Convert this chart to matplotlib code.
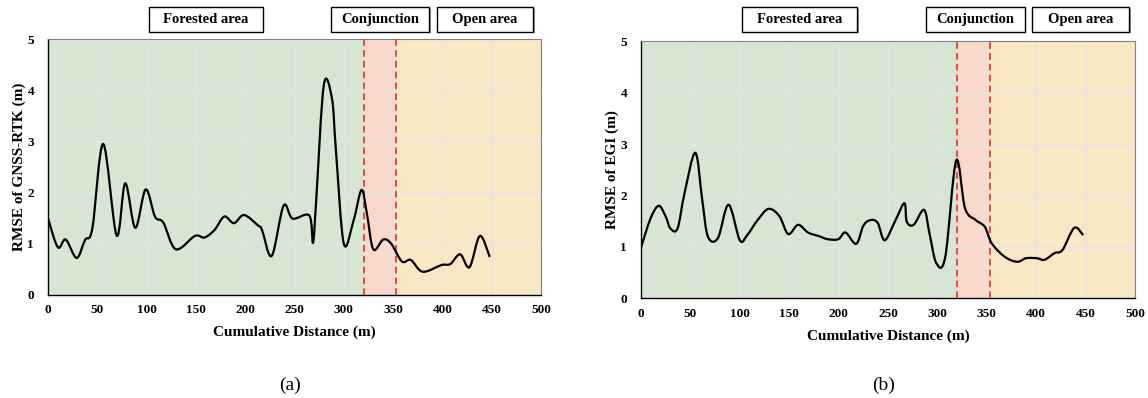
import numpy as np
import matplotlib
matplotlib.use("Agg")
import matplotlib.pyplot as plt
from matplotlib.path import Path
from matplotlib.patches import PathPatch, Rectangle

plt.rcParams['font.family'] = ['Liberation Serif', 'DejaVu Serif']
plt.rcParams['font.weight'] = 'bold'

# RMSE of GNSS-RTK along the route
dist_a = [0, 10, 18, 29, 37.5, 45, 56, 69.6, 78.3, 88.5, 99, 108.5, 117, 129.6, 149, 158.8,
          169, 178.8, 188.6, 198.8, 212.7, 217, 226.9, 238.9, 248, 265, 268.8, 272, 279.7,
          288, 292, 300, 310, 318, 323.4, 329.9, 340, 348, 359, 368, 380, 399, 408, 418,
          427.5, 438, 448]
rmse_a = [1.49, 0.93, 1.08, 0.72, 1.07, 1.3, 2.95, 1.16, 2.18, 1.31, 2.06, 1.53, 1.41, 0.89,
          1.15, 1.12, 1.27, 1.53, 1.40, 1.56, 1.36, 1.27, 0.76, 1.74, 1.49, 1.55, 1.02, 1.85,
          4.1, 3.84, 2.83, 1.0, 1.46, 2.05, 1.59, 0.89, 1.08, 1.0, 0.65, 0.68, 0.45, 0.58,
          0.6, 0.79, 0.54, 1.15, 0.74]

# RMSE of EGI along the route
dist_b = [0, 9.8, 18, 25, 29.7, 37, 44, 55, 62, 67.7, 77.8, 88.6, 100, 107.5, 118, 129, 140,
          149, 159, 169, 180, 189, 199.7, 207, 217.8, 225, 232, 239.5, 246.7, 257.6, 266.6,
          269, 276, 286.5, 292, 299, 308, 319, 328, 339, 348, 355, 368, 380.6, 389.7, 400.5,
          408.5, 418.6, 426.6, 438.5, 447.5]
rmse_b = [0.99, 1.56, 1.8, 1.59, 1.36, 1.36, 2.04, 2.83, 1.91, 1.2, 1.17, 1.82, 1.13, 1.23,
          1.52, 1.74, 1.6, 1.25, 1.43, 1.28, 1.21, 1.15, 1.15, 1.28, 1.06, 1.41, 1.52, 1.47,
          1.13, 1.52, 1.85, 1.49, 1.43, 1.72, 1.26, 0.68, 0.81, 2.68, 1.75, 1.52, 1.39, 1.07,
          0.81, 0.71, 0.78, 0.78, 0.75, 0.88, 0.94, 1.37, 1.23]

zones = ["Forested area", "Conjunction", "Open area"]
zone_edges = [0, 320, 353, 500]
zone_colors = ["#d6e6d2", "#f9d9cb", "#f9e8c5"]

W, H = 1148, 398


def smooth_path(x, y, t=1 / 6):
    # Excel-style smoothed line: cubic Bezier segments through the points
    pts = np.column_stack([x, y])
    verts = [pts[0]]
    codes = [Path.MOVETO]
    n = len(pts)
    for i in range(n - 1):
        p0 = pts[i - 1] if i > 0 else pts[i]
        p1, p2 = pts[i], pts[i + 1]
        p3 = pts[i + 2] if i + 2 < n else pts[i + 1]
        c1 = p1 + (p2 - p0) * t
        c2 = p2 - (p3 - p1) * t
        verts += [c1, c2, p2]
        codes += [Path.CURVE4] * 3
    return Path(verts, codes)


fig = plt.figure(figsize=(W / 100, H / 100), dpi=100)
ax_a = fig.add_axes([48 / W, 1 - 294.7 / H, 493 / W, 255.4 / H])
ax_b = fig.add_axes([641 / W, 1 - 298.3 / H, 494 / W, 257 / H])

# (axes, x, y, ylabel, tag, box pixel spans)
panels = [(ax_a, dist_a, rmse_a, "RMSE of GNSS-RTK (m)", "(a)",
           [(149, 263), (331, 429), (436.5, 533)]),
          (ax_b, dist_b, rmse_b, "RMSE of EGI (m)", "(b)",
           [(742, 857), (925.5, 1024.5), (1031.5, 1129)])]

for ax, xs, ys, ylab, tag, boxes in panels:
    for k in range(3):
        ax.axvspan(zone_edges[k], zone_edges[k + 1], color=zone_colors[k], lw=0, zorder=0)
    ax.set_xlim(0, 500)
    ax.set_ylim(0, 5)
    ax.set_xticks(range(0, 501, 50))
    ax.set_yticks(range(0, 6))
    ax.grid(True, color="#e4e4e4", lw=1.0, zorder=1)
    ax.set_axisbelow(True)
    for x in zone_edges[1:3]:
        ax.axvline(x, color="#e8302a", ls=(0, (4, 2.5)), lw=1.2, zorder=3)
    ax.add_patch(PathPatch(smooth_path(xs, ys), fill=False, ec="black", lw=1.6, zorder=4))
    ax.tick_params(length=0, labelsize=9.5)
    ax.tick_params(axis='x', pad=7)
    ax.tick_params(axis='y', pad=10)
    for lbl in ax.get_xticklabels() + ax.get_yticklabels():
        lbl.set_fontweight('bold')
    ax.set_xlabel("Cumulative Distance (m)", fontsize=11, fontweight='bold')
    ax.set_ylabel(ylab, fontsize=11, fontweight='bold')
    ax.xaxis.set_label_coords(0.5, -0.12)
    ax.yaxis.set_label_coords(-0.045, 0.5)
    for side in ["left", "bottom"]:
        ax.spines[side].set_color("black")
        ax.spines[side].set_linewidth(1.0)
    for side in ["top", "right"]:
        ax.spines[side].set_color("#808080")
        ax.spines[side].set_linewidth(0.8)
    pos = ax.get_position()
    fig.text(pos.x0 + pos.width / 2 - 4 / W, 1 - 385 / H, tag, ha="center", va="center",
             fontsize=14, fontweight='normal')
    for name, (bx0, bx1) in zip(zones, boxes):
        by0, by1 = 7.5, 31.5
        fig.patches.append(Rectangle((bx0 / W + 1.5 / W, 1 - (by1 + 1.5) / H),
                                     (bx1 - bx0) / W, (by1 - by0) / H,
                                     transform=fig.transFigure, fc="#9a9a9a", ec="none"))
        fig.patches.append(Rectangle((bx0 / W, 1 - by1 / H), (bx1 - bx0) / W, (by1 - by0) / H,
                                     transform=fig.transFigure, fc="white", ec="black", lw=1.0))
        fig.text((bx0 + bx1) / 2 / W, 1 - (by0 + by1) / 2 / H, name, ha="center",
                 va="center", fontsize=10.5, fontweight='bold')

fig.savefig("out.png", dpi=100)
